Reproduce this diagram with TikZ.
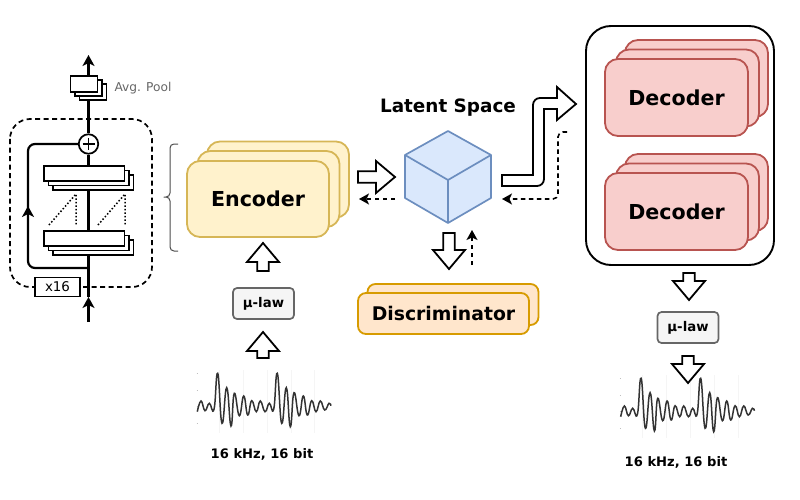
\documentclass[tikz,border=0pt]{standalone}
\usepackage{fontspec}
\setmainfont{DejaVu Sans}
\usetikzlibrary{arrows.meta,positioning,calc}
\definecolor{encfill}{HTML}{FFF2CC}
\definecolor{encline}{HTML}{D6B656}
\definecolor{decfill}{HTML}{F8CECC}
\definecolor{decline}{HTML}{B85450}
\definecolor{disfill}{HTML}{FFE6CC}
\definecolor{disline}{HTML}{D79B00}
\definecolor{cubefill}{HTML}{DAE8FC}
\definecolor{cubeline}{HTML}{6C8EBF}
\tikzset{
    card/.style={
        draw,
        line width=1.8pt,
        rounded corners=13pt,
        align=center,
        inner sep=0pt,
        font=\bfseries\fontsize{20.6}{24}\selectfont
    },
    enccard/.style={
        card,
        draw=encline,
        fill=encfill,
        minimum width=142pt,
        minimum height=76pt
    },
    deccard/.style={
        card,
        draw=decline,
        fill=decfill,
        minimum width=143pt,
        minimum height=77pt
    },
    discard/.style={
        card,
        draw=disline,
        fill=disfill,
        rounded corners=8pt,
        minimum width=171pt,
        minimum height=41pt,
        font=\bfseries\fontsize{18.8}{22}\selectfont
    },
    lawbox/.style={
        draw=black!60,
        fill=black!4,
        line width=1.7pt,
        rounded corners=4pt,
        minimum width=61pt,
        minimum height=31pt,
        inner sep=0pt,
        font=\bfseries\fontsize{13.3}{16}\selectfont
    },
    layerbox/.style={
        draw,
        fill=white,
        line width=1.7pt,
        inner sep=0pt,
        minimum width=80.5pt,
        minimum height=15pt
    },
    poolbox/.style={
        layerbox,
        minimum width=27pt,
        minimum height=16pt
    },
    rate/.style={font=\bfseries\fontsize{13.1}{16}\selectfont},
    fatarrow/.style={draw, fill=white, line width=1.8pt, miter limit=10},
    flow/.style={line width=2.2pt, -{Stealth[length=11pt,width=12pt,inset=3pt]}},
    wire/.style={line width=2.2pt},
    grad/.style={line width=1.6pt, dash pattern=on 4.5pt off 3.5pt, -{Stealth[length=10pt,width=11pt,inset=2.5pt]}},
    faint/.style={draw=black!4, line width=0.6pt},
    wave/.style={line width=1.5pt, black!80}
}
\newcommand{\fatarr}[2]{
    \coordinate (neck) at ($(#2)!19pt!(#1)$);
    \draw[fatarrow] ($(#1)!5.7pt!90:(#2)$) -- ($(neck)!5.7pt!90:(#2)$) -- ($(neck)!16pt!90:(#2)$) -- (#2)
        -- ($(neck)!16pt!-90:(#2)$) -- ($(neck)!5.7pt!-90:(#2)$) -- ($(#1)!5.7pt!-90:(#2)$) -- cycle;
}
\newcommand{\waveform}[2]{
    \begin{scope}[shift={(#1,#2)}]
        \foreach \x in {219.3,243.3,267.3,291,314.7} \draw[faint] (\x,370) -- (\x,433);
        \foreach \y in {373.3,390,406,423} \draw[black!25, line width=0.5pt] (196.5,\y) -- (198,\y);
        \draw[wave] plot[smooth,tension=0.8] coordinates {
            (197.3,411.7) (201,401) (205,410.7) (209.3,403.3) (214,409.3) (217.7,373.3) (222,423.3)
            (226.7,387.7) (231,426) (234.3,393.3) (239.3,415.7) (243.7,396) (247.7,415) (251.7,400.7)
            (256.3,411.7) (260.3,401) (265,411.7) (269.3,403.3) (273.7,409.3) (277.3,373.3) (281.7,423.3)
            (286.3,387.7) (290.3,426.7) (294,392.7) (299,415.7) (303.3,396) (307.3,415) (311.7,400.7)
            (316,411.7) (320.3,401) (324.7,410) (329,403.3) (331,405.7)};
    \end{scope}
}
\begin{document}
\begin{tikzpicture}[x=1pt,y=-1pt]
    \useasboundingbox (0,0) rectangle (800,500);

    \draw[line width=1.7pt, dash pattern=on 5pt off 3.5pt, rounded corners=20pt] (10,119) rectangle (152,287);

    \coordinate (in) at (88.5,322);
    \coordinate (mid) at (88.5,297);
    \coordinate (out) at (88.5,55);
    \coordinate (fork) at (88.5,268);
    \coordinate (loopup) at (28,206);

    \node[layerbox] (lay3) at (93.25,182.5) {};
    \node[layerbox] (lay2) at (88.75,178) {};
    \node[layerbox] (lay1) at (84.25,173.5) {};
    \node[layerbox] (lbb3) at (93.25,247.5) {};
    \node[layerbox] (lbb2) at (88.75,243) {};
    \node[layerbox] (lbb1) at (84.25,238.5) {};
    \node[poolbox] (pool3) at (93,92) {};
    \node[poolbox] (pool2) at (88.5,88) {};
    \node[poolbox] (pool1) at (84,84) {};
    \node[right=0pt of pool3.east, anchor=west, xshift=7pt, yshift=4pt, text=black!60, inner sep=0pt, font=\fontsize{12.2}{15}\selectfont] (poollabel) {Avg. Pool};
    \node[draw, fill=white, circle, line width=1.7pt, minimum size=19.5pt, inner sep=0pt] (plus) at (88.5,144) {};
    \draw[line width=1.7pt] ([yshift=6pt]plus.center) -- ([yshift=-6pt]plus.center) ([xshift=-6pt]plus.center) -- ([xshift=6pt]plus.center);
    \node[draw, fill=white, line width=1.7pt, minimum width=45pt, minimum height=19pt, inner sep=0pt, font=\fontsize{13.4}{16}\selectfont] (times) at (57.5,287) {x16};

    \draw[flow] (in) -- (mid);
    \draw[wire] (mid) -- (in |- lbb3.south);
    \draw[wire] (in |- lbb1.north) -- (in |- lay3.south);
    \draw[wire] (in |- lay1.north) -- (plus.south);
    \draw[wire] (plus.north) -- (in |- pool3.south);
    \draw[flow] (in |- pool1.north) -- (out);
    \draw[wire, rounded corners=7pt] (fork) -- (fork -| loopup) -- (loopup |- plus) -- (plus.west);
    \draw[flow] (fork -| loopup) ++(0,-20) -- (loopup);

    \coordinate (dota) at (49,225);
    \coordinate (dotb) at (76,194);
    \coordinate (dotc) at (98,225);
    \coordinate (dotd) at (125,194);
    \draw[line width=1.5pt, dotted] (dota) -- (dotb) -- (dotb |- dota);
    \draw[line width=1.5pt, dotted] (dotc) -- (dotd) -- (dotd |- dotc);

    \draw[black!70, line width=1pt, rounded corners=4pt] (178,144) -- (170,144) -- (170,197) -- (163,197) -- (170,197) -- (170,251) -- (178,251);

    \node[enccard] (enc3) at (278,179.5) {};
    \node[enccard] (enc2) at (268.5,189) {};
    \node[enccard] (enc) at (258,199) {Encoder};

    \node[lawbox] (lawin) at (263.5,303.5) {μ-law};
    \coordinate (wavetop) at (263,358);
    \coordinate (lawlow) at (263,332);
    \coordinate (lawtop) at (263,271);
    \coordinate (enclow) at (263,243);
    \fatarr{wavetop}{lawlow}
    \fatarr{lawtop}{enclow}
    \waveform{0}{0}
    \node[rate] (ratein) at (262,454) {16 kHz, 16 bit};

    \coordinate (a) at (405,155);
    \coordinate (b) at (448,131);
    \coordinate (c) at (491,155);
    \coordinate (d) at (491,198);
    \coordinate (e) at (448,223);
    \coordinate (f) at (405,198);
    \coordinate (g) at (448,180);
    \draw[draw=cubeline, fill=cubefill, line width=1.7pt, line join=round] (a) -- (b) -- (c) -- (d) -- (e) -- (f) -- cycle;
    \draw[draw=cubeline, line width=1.7pt, line join=round] (a) -- (g) -- (c) (g) -- (e);
    \node[font=\bfseries\fontsize{18.4}{22}\selectfont] (latent) at (448,108) {Latent Space};

    \coordinate (encout) at (358,177);
    \coordinate (cubein) at (395,177);
    \coordinate (cubeback) at (395,199);
    \coordinate (encback) at (359,199);
    \fatarr{encout}{cubein}
    \draw[grad] (cubeback) -- (encback);

    \node[discard] (dis2) at (453,304.5) {};
    \node[discard] (dis) at (443.5,313.5) {Discriminator};
    \coordinate (cubeout) at (449,233);
    \coordinate (disin) at (449,269);
    \coordinate (disout) at (472,265);
    \coordinate (disup) at (472,230);
    \fatarr{cubeout}{disin}
    \draw[grad] (disout) -- (disup);

    \node[draw, line width=1.9pt, rounded corners=25pt, minimum width=188pt, minimum height=239pt, inner sep=0pt] (bank) at (680,145.5) {};
    \node[deccard] (top3) at (696.5,78.5) {};
    \node[deccard] (top2) at (687.5,88) {};
    \node[deccard] (top) at (676.5,97.5) {Decoder};
    \node[deccard] (low3) at (696.5,192.5) {};
    \node[deccard] (low2) at (687.5,202) {};
    \node[deccard] (low) at (676.5,211.5) {Decoder};

    \draw[fatarrow] (502,175) -- (533,175) [rounded corners=7pt] -- (533,98) [sharp corners] -- (557,98) -- (557,87) -- (576,104) -- (557,120) -- (557,109) -- (544,109) [rounded corners=7pt] -- (544,186) [sharp corners] -- (502,186) -- cycle;
    \coordinate (bankback) at (567,132);
    \coordinate (cubeback2) at (502,199);
    \draw[grad, rounded corners=5pt] (bankback) -- (558,132) -- (558,199) -- (cubeback2);

    \coordinate (bankout) at (689,273);
    \coordinate (lawin2) at (689,300);
    \coordinate (lawout) at (688,356);
    \coordinate (wavein) at (688,383);
    \node[lawbox] (lawdec) at (688,327.5) {μ-law};
    \fatarr{bankout}{lawin2}
    \waveform{423.4}{5}
    \fatarr{lawout}{wavein}
    \node[rate] (rateout) at (676,462) {16 kHz, 16 bit};
\end{tikzpicture}
\end{document}
